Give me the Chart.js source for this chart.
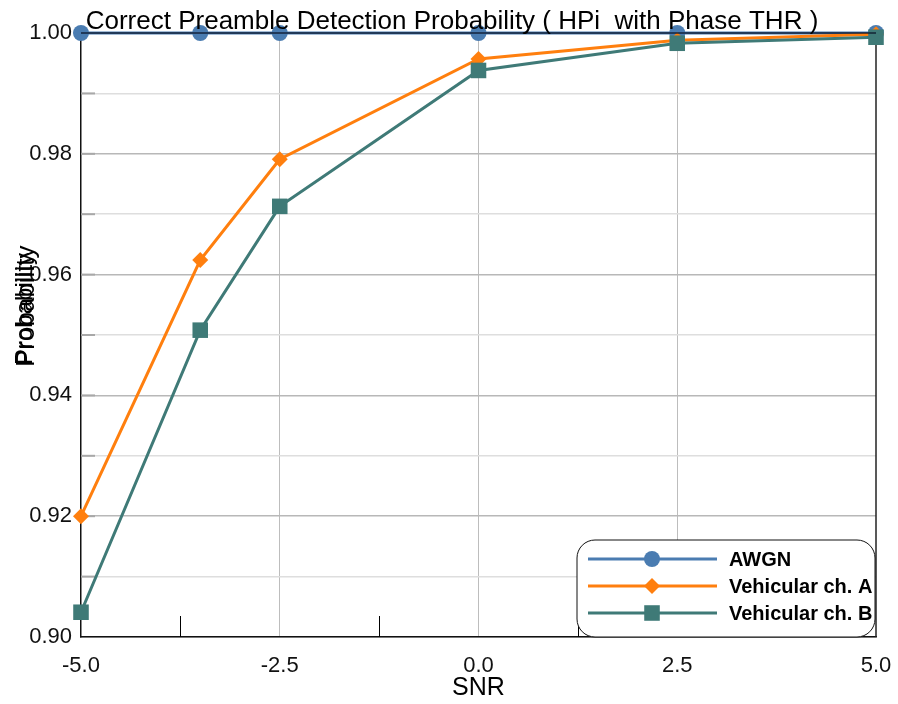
<!DOCTYPE html>
<html>
<head>
<meta charset="utf-8">
<script src="https://cdn.jsdelivr.net/npm/chart.js@4.4.1/dist/chart.umd.min.js"></script>
<style>
  html, body { margin: 0; padding: 0; background: #fff; }
  #wrap { width: 898px; height: 704px; position: relative; }
</style>
</head>
<body>
<div id="wrap"><canvas id="detChart"></canvas></div>
<script>
// SNR points (x) and detection probability per channel
const snr = [-5, -3.5, -2.5, 0, 2.5, 5];
const awgn = [1.0, 1.0, 1.0, 1.0, 1.0, 1.0];
const vehA = [0.920, 0.9624, 0.9791, 0.9957, 0.9988, 0.9998];
const vehB = [0.9041, 0.9508, 0.9713, 0.9938, 0.9983, 0.9993];

const seriesNames = ["AWGN", "Vehicular ch. A", "Vehicular ch. B"];
const xTicks = [-5, -2.5, 0, 2.5, 5];
const minorTicksX = [-3.75, -1.25, 1.25, 3.75];

const chartTitle = "Correct Preamble Detection Probability ( HPi  with Phase THR )";
const xTitle = "SNR";
const yTitle = "Probability";

const FONT = "'Liberation Sans', Arial, sans-serif";

function toPoints(ys) {
  return snr.map((x, i) => ({ x: x, y: ys[i] }));
}

function drawMarker(ctx, style, x, y, r, color) {
  ctx.save();
  ctx.fillStyle = color;
  ctx.beginPath();
  if (style === "circle") {
    ctx.arc(x, y, r, 0, Math.PI * 2);
  } else if (style === "rectRot") {
    ctx.moveTo(x, y - r);
    ctx.lineTo(x + r, y);
    ctx.lineTo(x, y + r);
    ctx.lineTo(x - r, y);
    ctx.closePath();
  } else {
    const s = r * Math.SQRT1_2;
    ctx.rect(x - s, y - s, 2 * s, 2 * s);
  }
  ctx.fill();
  ctx.restore();
}

// frame, inner ticks, minor x ticks
const framePlugin = {
  id: "frame",
  beforeDatasetsDraw(chart) {
    const { ctx, chartArea: a, scales } = chart;
    ctx.save();
    // short tick marks on left, inside plot
    ctx.strokeStyle = "#a8a8a8";
    ctx.lineWidth = 2;
    scales.y.ticks.forEach((t) => {
      if (t.value <= scales.y.min + 1e-9 || t.value >= scales.y.max - 1e-9) return;
      const py = scales.y.getPixelForValue(t.value);
      ctx.beginPath();
      ctx.moveTo(a.left, py);
      ctx.lineTo(a.left + 14, py);
      ctx.stroke();
    });
    // minor ticks on bottom
    ctx.strokeStyle = "#000";
    ctx.lineWidth = 1;
    minorTicksX.forEach((v) => {
      const px = Math.round(scales.x.getPixelForValue(v)) + 0.5;
      ctx.beginPath();
      ctx.moveTo(px, a.bottom);
      ctx.lineTo(px, a.bottom - 21);
      ctx.stroke();
    });
    // right border
    ctx.strokeStyle = "#222";
    ctx.lineWidth = 1.5;
    ctx.beginPath();
    ctx.moveTo(a.right, a.top);
    ctx.lineTo(a.right, a.bottom);
    ctx.stroke();
    ctx.restore();
  },
  afterDatasetsDraw(chart) {
    const { ctx, chartArea: a } = chart;
    ctx.save();
    ctx.strokeStyle = "rgba(10,20,40,0.85)";
    ctx.lineWidth = 1.5;
    ctx.beginPath();
    ctx.moveTo(a.left, a.top);
    ctx.lineTo(a.right, a.top);
    ctx.stroke();
    ctx.restore();
  },
};

// titles + legend box in lower right
const overlayPlugin = {
  id: "overlay",
  afterDraw(chart) {
    const { ctx, chartArea: a } = chart;
    ctx.save();
    ctx.fillStyle = "#000";

    // chart title
    ctx.font = "26px " + FONT;
    ctx.textAlign = "center";
    ctx.textBaseline = "alphabetic";
    ctx.fillText(chartTitle, 452, 29);

    // x title
    ctx.font = "25px " + FONT;
    ctx.textBaseline = "middle";
    ctx.fillText(xTitle, (a.left + a.right) / 2, 688);

    // y title (drawn twice, slightly offset, as in the original)
    ctx.save();
    ctx.translate(34, 367);
    ctx.rotate(-Math.PI / 2);
    ctx.textAlign = "left";
    ctx.textBaseline = "alphabetic";
    ctx.font = "26px " + FONT;
    ctx.fillText(yTitle, 0, 0);
    ctx.font = "24px " + FONT;
    ctx.fillText(yTitle, 2, -2);
    ctx.restore();

    // legend
    const bw = 298, bh = 97;
    const bx = a.right - bw - 1, by = a.bottom - bh;
    ctx.beginPath();
    ctx.roundRect(bx, by, bw, bh, 18);
    ctx.fillStyle = "#fff";
    ctx.fill();
    ctx.strokeStyle = "#111";
    ctx.lineWidth = 1;
    ctx.stroke();

    ctx.save();
    ctx.beginPath();
    ctx.rect(a.left, a.top, a.right - a.left, a.bottom - a.top);
    ctx.clip();
    chart.data.datasets.forEach((ds, i) => {
      const ry = by + 19 + i * 27;
      ctx.strokeStyle = ds.borderColor;
      ctx.lineWidth = 3;
      ctx.beginPath();
      ctx.moveTo(bx + 11, ry);
      ctx.lineTo(bx + 140, ry);
      ctx.stroke();
      drawMarker(ctx, ds.pointStyle, bx + 75, ry, ds.pointRadius, ds.borderColor);
      ctx.fillStyle = "#000";
      ctx.font = "bold 20px " + FONT;
      ctx.textAlign = "left";
      ctx.textBaseline = "middle";
      ctx.fillText(ds.label, bx + 152, ry + 1);
    });
    ctx.restore();

    ctx.restore();
  },
};

function initChart() {
  const ctx = document.getElementById("detChart").getContext("2d");
  new Chart(ctx, {
    type: "line",
    data: {
      datasets: [
        {
          label: seriesNames[0],
          data: toPoints(awgn),
          borderColor: "#4a7cb1",
          backgroundColor: "#4a7cb1",
          pointStyle: "circle",
          pointRadius: 8,
          borderWidth: 3,
          pointBorderWidth: 0,
          clip: false,
          order: 3,
        },
        {
          label: seriesNames[1],
          data: toPoints(vehA),
          borderColor: "#ff7f0e",
          backgroundColor: "#ff7f0e",
          pointStyle: "rectRot",
          pointRadius: 8,
          borderWidth: 3,
          pointBorderWidth: 0,
          clip: false,
          order: 2,
        },
        {
          label: seriesNames[2],
          data: toPoints(vehB),
          borderColor: "#3f7a77",
          backgroundColor: "#3f7a77",
          pointStyle: "rect",
          pointRadius: 11,
          borderWidth: 3,
          pointBorderWidth: 0,
          clip: false,
          order: 1,
        },
      ],
    },
    options: {
      responsive: true,
      maintainAspectRatio: false,
      animation: false,
      layout: { padding: { top: 33, right: 22, left: 0, bottom: 0 } },
      scales: {
        x: {
          type: "linear",
          min: -5,
          max: 5,
          afterFit(scale) {
            scale.height = 67;
            scale.paddingLeft = 0;
            scale.paddingRight = 0;
          },
          afterBuildTicks(scale) {
            scale.ticks = xTicks.map((v) => ({ value: v }));
          },
          ticks: {
            padding: 16,
            color: "#111",
            font: { family: FONT, size: 22 },
            maxRotation: 0,
            callback: (v) => Number(v).toFixed(1),
          },
          grid: {
            drawTicks: false,
            color: (c) =>
              c.tick && (c.tick.value === -5 || c.tick.value === 5)
                ? "rgba(0,0,0,0)"
                : "#bdbdbd",
            lineWidth: 1,
          },
          border: { color: "#111", width: 1.5 },
        },
        y: {
          min: 0.9,
          max: 1.0,
          afterFit(scale) {
            scale.width = 81;
            scale.paddingTop = 0;
            scale.paddingBottom = 0;
          },
          ticks: {
            stepSize: 0.01,
            padding: 9,
            color: "#111",
            font: { family: FONT, size: 22 },
            callback: (v) =>
              Math.round(v * 100) % 2 === 0 ? Number(v).toFixed(2) : "",
          },
          grid: {
            drawTicks: false,
            color: (c) =>
              c.tick && Math.round(c.tick.value * 100) % 2 === 0
                ? "#b8b8b8"
                : "#dedede",
            lineWidth: 1.5,
          },
          border: { color: "#111", width: 1.5 },
        },
      },
      plugins: {
        legend: { display: false },
        title: { display: false },
        tooltip: { enabled: false },
      },
    },
    plugins: [framePlugin, overlayPlugin],
  });
}

document.addEventListener("DOMContentLoaded", initChart);
</script>
</body>
</html>
